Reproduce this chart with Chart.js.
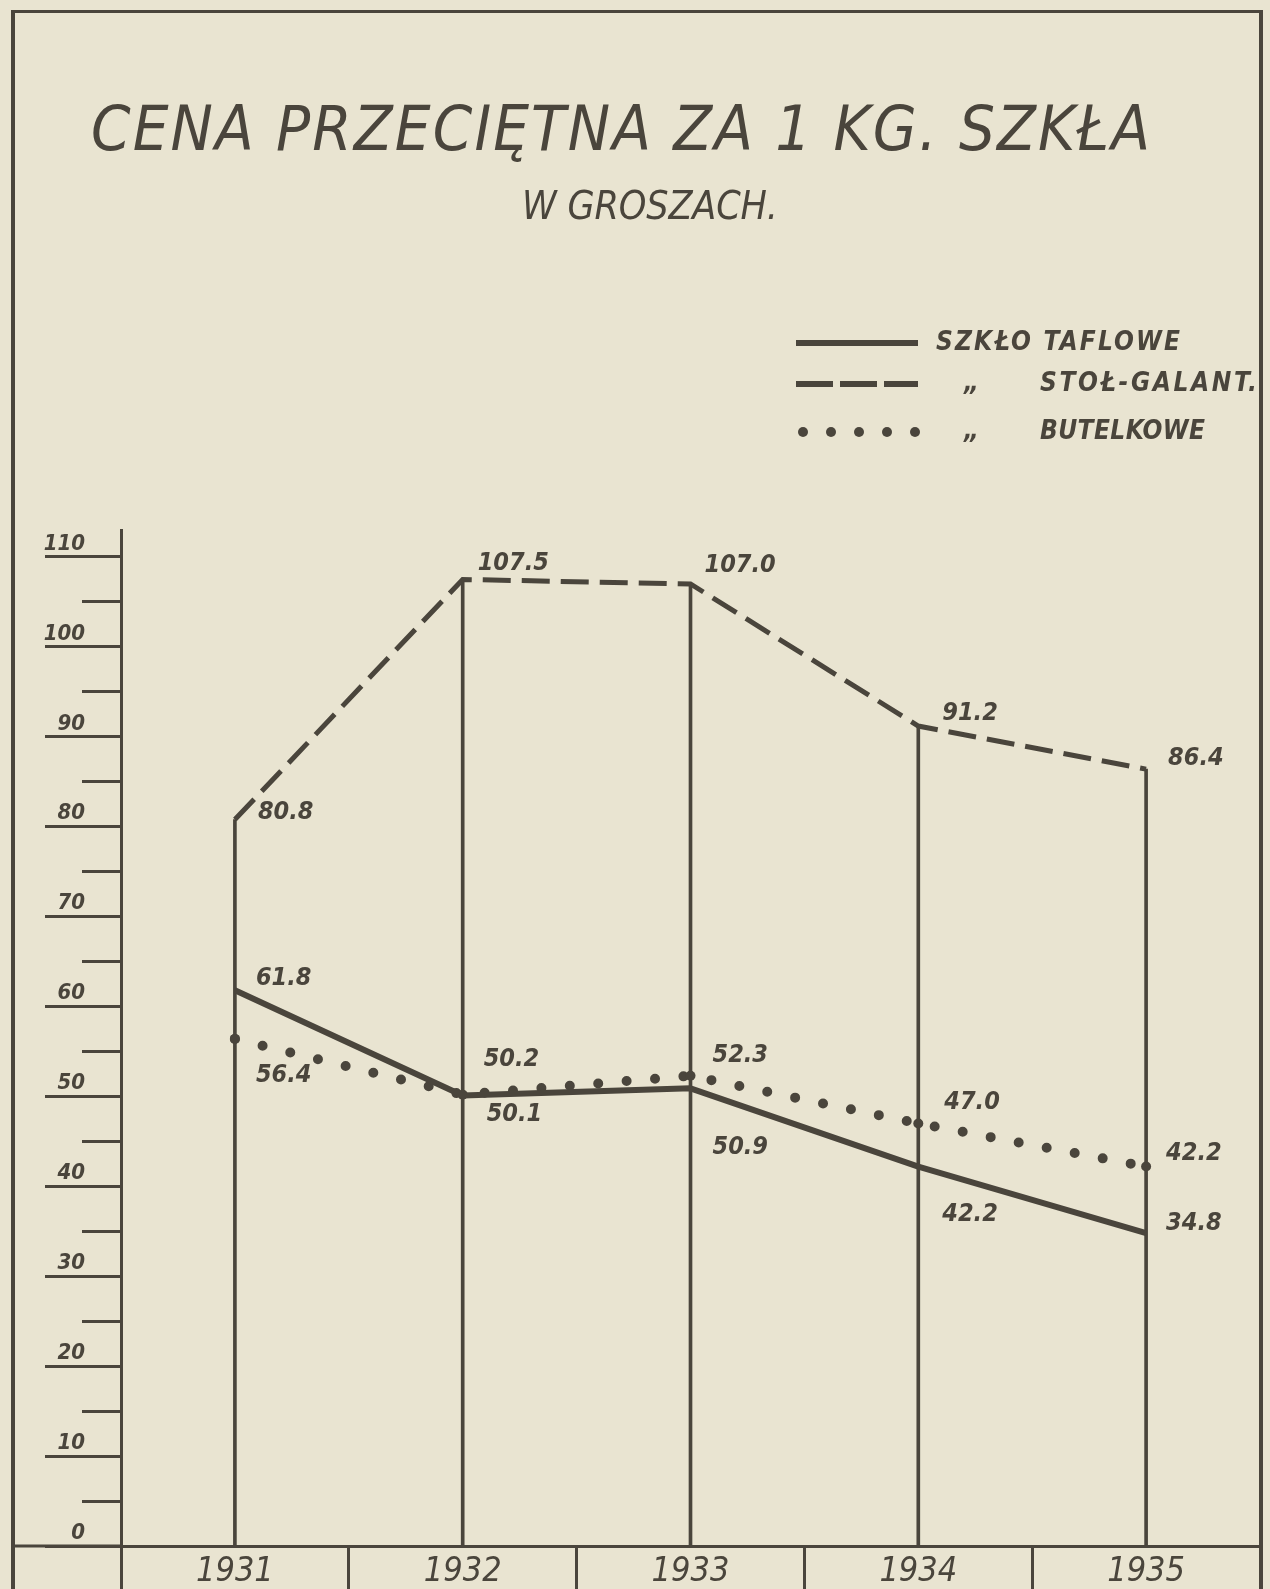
<!DOCTYPE html>
<html lang="pl">
<head>
<meta charset="utf-8">
<title>Cena przeciętna za 1 kg szkła</title>
<script src="https://cdn.jsdelivr.net/npm/chart.js@4.4.1/dist/chart.umd.min.js"></script>
<style>
  html, body { margin:0; padding:0; background:#e9e4d1; }
  #page { position:relative; width:1270px; height:1589px; overflow:hidden; background:#e9e4d1; }
  #chart { position:absolute; left:0; top:0; }
  #frame { position:absolute; left:11px; top:10px; width:1252px; height:1640px; box-sizing:border-box;
           border-left:4px solid #4a453c; border-top:3px solid #4a453c; border-right:4px solid #4a453c; pointer-events:none; }
  .txt { position:absolute; margin:0; font-family:"DejaVu Sans Condensed","DejaVu Sans",sans-serif; font-style:italic;
         font-weight:normal; color:#4a453c; white-space:nowrap; line-height:1; }
  #title { left:91px; top:97px; font-size:63px; }
  #subtitle { left:522px; top:186px; font-size:39px; }
</style>
</head>
<body>
<div id="page">
  <canvas id="chart" width="1270" height="1589"></canvas>
  <div id="frame"></div>
  <div class="txt" id="title">CENA PRZECIĘTNA ZA 1 KG. SZKŁA</div>
  <div class="txt" id="subtitle">W GROSZACH.</div>
</div>
<script>
// ---------------- data ----------------
const years = ['1931', '1932', '1933', '1934', '1935'];
const szkloTaflowe    = [61.8, 50.1, 50.9, 42.2, 34.8];
const szkloStolGalant = [80.8, 107.5, 107.0, 91.2, 86.4];
const szkloButelkowe  = [56.4, 50.2, 52.3, 47.0, 42.2];
const yTickLabels = ['0', '10', '20', '30', '40', '50', '60', '70', '80', '90', '100', '110'];
const seriesLabels = ['SZKŁO TAFLOWE', 'STOŁ-GALANT.', 'BUTELKOWE'];
const dittoMark = '„';

// vertical year lines reach the highest value of each year
const dropLines = years.map((_, i) => Math.max(szkloTaflowe[i], szkloStolGalant[i], szkloButelkowe[i]));

// ---------------- style ----------------
const INK = '#4a453c';
const FAMILY = '"DejaVu Sans Condensed", "DejaVu Sans", sans-serif';

// label placement relative to each point [dx, dy]
const offTaflowe = [[21, -12], [24, 19], [22, 59], [24, 48], [20, -10]];
const offStol    = [[23, -7], [15, -16], [14, -18], [24, -13], [22, -11]];
const offButel   = [[21, 37], [21, -35], [22, -20], [26, -21], [20, -13]];

function fitWidth(el, target) {
  el.style.letterSpacing = '0px';
  const w = el.getBoundingClientRect().width;
  const n = el.textContent.length;
  el.style.letterSpacing = ((target - w) / (n - 1)) + 'px';
}
fitWidth(document.getElementById('title'), 1059);
fitWidth(document.getElementById('subtitle'), 256);

function spacedText(ctx, text, x, y, target) {
  if ('letterSpacing' in ctx) {
    ctx.letterSpacing = '0px';
    const w = ctx.measureText(text).width;
    ctx.letterSpacing = ((target - w) / (text.length - 1)) + 'px';
  }
  ctx.fillText(text, x, y);
  if ('letterSpacing' in ctx) ctx.letterSpacing = '0px';
}

const valueLabels = {
  id: 'valueLabels',
  afterDatasetsDraw(chart) {
    const ctx = chart.ctx;
    ctx.save();
    ctx.font = 'italic bold 25px ' + FAMILY;
    ctx.fillStyle = INK;
    ctx.textAlign = 'left';
    ctx.textBaseline = 'middle';
    chart.data.datasets.forEach((ds, di) => {
      if (!ds.valueOffsets) return;
      const meta = chart.getDatasetMeta(di);
      meta.data.forEach((pt, i) => {
        const [dx, dy] = ds.valueOffsets[i];
        ctx.fillText(ds.data[i].toFixed(1), pt.x + dx, pt.y + dy);
      });
    });
    ctx.restore();
  }
};

const extras = {
  id: 'extras',
  afterDraw(chart) {
    const ctx = chart.ctx;
    const ds = chart.data.datasets;
    ctx.save();
    // base line continues to the left frame
    const y0 = chart.scales.y.getPixelForValue(0);
    ctx.strokeStyle = INK;
    ctx.lineWidth = 3;
    ctx.beginPath();
    ctx.moveTo(13, y0);
    ctx.lineTo(chart.chartArea.left, y0);
    ctx.stroke();

    // legend
    const rows = [
      { y: 343, textX: 936, width: 244, ditto: false },
      { y: 384, textX: 1040, width: 217, ditto: true },
      { y: 432, textX: 1040, width: 165, ditto: true }
    ];
    const x0 = 796, x1 = 918;
    ctx.lineWidth = ds[0].borderWidth;
    ctx.setLineDash([]);
    ctx.beginPath(); ctx.moveTo(x0, rows[0].y); ctx.lineTo(x1, rows[0].y); ctx.stroke();
    ctx.lineWidth = 6;
    ctx.setLineDash([37, 7]);
    ctx.beginPath(); ctx.moveTo(x0, rows[1].y); ctx.lineTo(x1, rows[1].y); ctx.stroke();
    ctx.setLineDash([]);
    ctx.fillStyle = INK;
    for (let k = 0; k < 5; k++) {
      ctx.beginPath();
      ctx.arc(803 + k * 28, rows[2].y, 5, 0, Math.PI * 2);
      ctx.fill();
    }
    ctx.font = 'italic bold 26px ' + FAMILY;
    ctx.textBaseline = 'middle';
    ctx.textAlign = 'left';
    rows.forEach((r, i) => {
      spacedText(ctx, seriesLabels[i], r.textX, r.y, r.width);
      if (r.ditto) ctx.fillText(dittoMark, 964, r.y);
    });
    ctx.restore();
  }
};

const chart = new Chart(document.getElementById('chart'), {
  type: 'bar',
  data: {
    labels: years,
    datasets: [
      { type: 'line', label: seriesLabels[0], data: szkloTaflowe, borderColor: INK, backgroundColor: INK,
        borderWidth: 6, pointRadius: 0, tension: 0, fill: false, borderJoinStyle: 'round', order: 1,
        valueOffsets: offTaflowe },
      { type: 'line', label: seriesLabels[1], data: szkloStolGalant, borderColor: INK, backgroundColor: INK,
        borderWidth: 5, borderDash: [28, 11], pointRadius: 0, tension: 0, fill: false, order: 2,
        valueOffsets: offStol },
      { type: 'line', label: seriesLabels[2], data: szkloButelkowe, borderColor: INK, backgroundColor: INK,
        borderWidth: 10, borderDash: [0, 28.5], borderCapStyle: 'round', pointRadius: 5, pointBorderWidth: 0,
        pointBackgroundColor: INK, tension: 0, fill: false, order: 3, valueOffsets: offButel },
      { type: 'bar', label: 'lata', data: dropLines, backgroundColor: INK, barThickness: 3, order: 10 }
    ]
  },
  options: {
    responsive: false,
    animation: false,
    devicePixelRatio: 1,
    layout: { padding: { top: 530, left: 0, right: 10, bottom: 0 } },
    plugins: { legend: { display: false }, tooltip: { enabled: false }, title: { display: false } },
    scales: {
      x: {
        type: 'category',
        offset: true,
        grid: { display: true, drawOnChartArea: false, drawTicks: true, tickLength: 43, tickWidth: 3,
                tickColor: INK, color: INK, offset: true },
        border: { display: true, color: INK, width: 3 },
        ticks: { color: INK, padding: -37, autoSkip: false, maxRotation: 0, minRotation: 0,
                 font: { family: FAMILY, size: 34, style: 'italic', weight: 'normal' } },
        afterFit(scale) { scale.height = 43; }
      },
      y: {
        min: 0, max: 113, bounds: 'data',
        grid: { drawOnChartArea: false, drawTicks: true, tickLength: 76, tickWidth: 3, tickColor: INK,
                tickBorderDash: (c) => (c.tick && c.tick.value % 10 !== 0) ? [0, 37, 80, 0] : [] },
        border: { display: true, color: INK, width: 3 },
        ticks: { stepSize: 5, includeBounds: false, autoSkip: false, padding: -40, labelOffset: -13, color: INK,
                 font: { family: FAMILY, size: 22, style: 'italic', weight: 'bold' },
                 callback: (v) => yTickLabels.includes(String(v)) ? String(v) : '' },
        afterBuildTicks(scale) {
          scale.ticks = scale.ticks.filter(t => t.value % 5 === 0 && t.value <= 110);
        },
        afterFit(scale) { scale.width = 121; }
      }
    }
  },
  plugins: [valueLabels, extras]
});
</script>
</body>
</html>
